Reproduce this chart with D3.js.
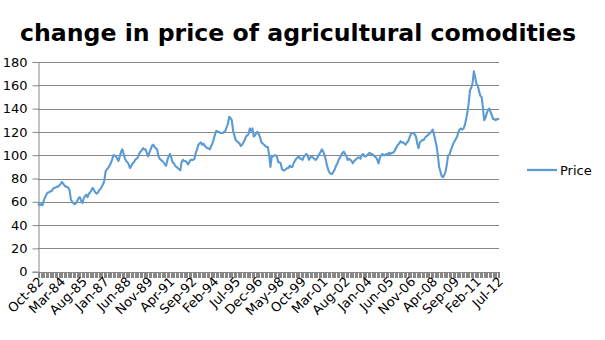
<!DOCTYPE html>
<html>
<head>
<meta charset="utf-8">
<script src="https://cdn.jsdelivr.net/npm/d3@7"></script>
<style>
  html, body { margin: 0; padding: 0; background: #ffffff; }
  svg { display: block; }
  text { font-family: "DejaVu Sans", sans-serif; }
</style>
</head>
<body>
<svg id="chart" width="605" height="340"></svg>
<script>
// ---- data ----
const chartTitle = "change in price of agricultural comodities";
const seriesName = "Price";
const startMonth = [1982, 9];   // Oct-82
const endMonth = [2012, 6];     // Jul-12
const price = [
  58, 57, 58, 57, 61, 64, 66, 68, 68, 69, 69, 71,
  72, 72, 73, 73, 74, 75, 77, 76, 74, 73, 73, 72,
  70, 62, 60, 59, 58, 59, 61, 63, 64, 61, 59, 63,
  65, 66, 64, 67, 68, 70, 72, 70, 68, 67, 68, 70,
  71, 73, 75, 78, 86, 88, 89, 91, 93, 96, 100, 100,
  99, 97, 95, 99, 103, 105, 101, 97, 95, 94, 92, 89,
  91, 93, 94, 96, 97, 98, 101, 103, 104, 106, 105, 105,
  102, 99, 102, 105, 108, 109, 107, 106, 105, 99, 97, 96,
  95, 94, 92, 91, 96, 99, 101, 98, 94, 93, 91, 90,
  89, 88, 87, 94, 96, 95, 95, 94, 92, 94, 96, 96,
  96, 97, 102, 105, 109, 110, 111, 109, 110, 108, 107, 106,
  106, 105, 108, 110, 114, 118, 121, 120, 120, 119, 119, 119,
  120, 121, 124, 127, 133, 132, 130, 121, 117, 113, 112, 111,
  110, 108, 109, 111, 113, 116, 117, 118, 123, 121, 123, 116,
  117, 119, 120, 118, 115, 111, 110, 109, 108, 107, 107, 100,
  90, 99, 99, 100, 100, 99, 94, 94, 93, 88, 87, 87,
  88, 89, 89, 91, 90, 90, 93, 95, 97, 98, 99, 97,
  97, 96, 99, 100, 101, 99, 96, 98, 99, 98, 97, 96,
  97, 99, 101, 103, 105, 103, 100, 96, 91, 87, 85, 84,
  84, 86, 88, 91, 93, 96, 98, 100, 102, 103, 101, 99,
  96, 97, 96, 95, 93, 95, 96, 97, 98, 98, 97, 100,
  101, 99, 99, 100, 101, 102, 101, 101, 100, 99, 98, 96,
  93, 98, 100, 101, 100, 100, 101, 100, 102, 101, 102, 102,
  103, 105, 107, 109, 110, 112, 111, 111, 110, 109, 111, 112,
  115, 118, 119, 119, 118, 116, 110, 106, 111, 112, 113, 113,
  115, 116, 117, 118, 119, 120, 122, 118, 113, 108, 100, 90,
  86, 82, 81, 83, 86, 92, 100, 100, 104, 107, 110, 112,
  114, 116, 120, 122, 123, 122, 123, 126, 131, 137, 145, 156,
  158, 162, 172, 167, 161, 160, 155, 151, 150, 141, 130, 132,
  136, 139, 140, 137, 134, 131, 131, 130, 131, 131
];
const tickLabels = ["Oct-82","Mar-84","Aug-85","Jan-87","Jun-88","Nov-89","Apr-91","Sep-92",
  "Feb-94","Jul-95","Dec-96","May-98","Oct-99","Mar-01","Aug-02","Jan-04","Jun-05","Nov-06",
  "Apr-08","Sep-09","Feb-11","Jul-12"];
const labelStep = 17;
const yTicks = [0, 20, 40, 60, 80, 100, 120, 140, 160, 180];

// ---- chart ----
const months = d3.timeMonth.range(new Date(startMonth[0], startMonth[1], 1),
                                  d3.timeMonth.offset(new Date(endMonth[0], endMonth[1], 1), 1));
const data = months.map((m, i) => ({ m, i, v: price[i] }));

const svg = d3.select("#chart");
const L = 38, R = 499, T = 62, B = 271.7;
const gridColor = "#878787";

const x = d3.scaleBand().domain(data.map(d => d.i)).range([L, R]).padding(0);
const y = d3.scaleLinear().domain([0, 180]).range([B, T]);

// gridlines
svg.append("g").selectAll("line").data(yTicks).join("line")
  .attr("x1", L).attr("x2", R)
  .attr("y1", d => Math.round(y(d)) + 0.5).attr("y2", d => Math.round(y(d)) + 0.5)
  .attr("stroke", gridColor).attr("stroke-width", 1);

// y axis
const yAxis = svg.append("g").attr("transform", `translate(${L + 0.5},0)`)
  .call(d3.axisLeft(y).tickValues(yTicks).tickSize(6).tickPadding(5).tickFormat(d3.format("d")));
yAxis.select(".domain").attr("stroke", gridColor);
yAxis.selectAll(".tick line").attr("stroke", gridColor);
yAxis.selectAll(".tick text").attr("font-size", 13).attr("fill", "#000")
  .attr("font-family", "DejaVu Sans, sans-serif");

// x axis line
svg.append("line").attr("x1", L).attr("x2", R + 0.5)
  .attr("y1", Math.round(B) + 0.5).attr("y2", Math.round(B) + 0.5)
  .attr("stroke", gridColor);

// x tick marks at category boundaries
const bounds = data.map(d => x(d.i)).concat([R]);
svg.append("g").selectAll("line").data(bounds).join("line")
  .attr("x1", d => Math.round(d) + 0.5).attr("x2", d => Math.round(d) + 0.5)
  .attr("y1", Math.round(B)).attr("y2", Math.round(B) + 6)
  .attr("stroke", gridColor).attr("stroke-width", 1)
  .attr("shape-rendering", "crispEdges");

// x labels
const labelIdx = tickLabels.map((t, k) => k * labelStep);
const xAxis = svg.append("g").attr("transform", `translate(0,${Math.round(B)})`)
  .call(d3.axisBottom(x).tickValues(labelIdx).tickSize(0)
        .tickFormat((d, k) => tickLabels[k]));
xAxis.select(".domain").remove();
xAxis.selectAll(".tick text")
  .attr("font-size", 13).attr("fill", "#000")
  .attr("font-family", "DejaVu Sans, sans-serif")
  .attr("text-anchor", "end")
  .attr("dy", null).attr("y", 0)
  .attr("transform", "translate(3,8) rotate(-45)")
  .attr("dominant-baseline", "middle");

// line
const line = d3.line().x(d => x(d.i) + x.bandwidth() / 2).y(d => y(d.v));
svg.append("path").datum(data)
  .attr("d", line).attr("fill", "none")
  .attr("stroke", "#5b9bd5").attr("stroke-width", 2.1)
  .attr("stroke-linejoin", "round").attr("stroke-linecap", "round");

// title
svg.append("text").attr("x", 298).attr("y", 41)
  .attr("text-anchor", "middle")
  .attr("font-size", 23.6).attr("font-weight", "bold").attr("fill", "#000")
  .text(chartTitle);

// legend
const lg = svg.append("g");
lg.append("line").attr("x1", 527).attr("x2", 557).attr("y1", 170).attr("y2", 170)
  .attr("stroke", "#5b9bd5").attr("stroke-width", 2.25);
lg.append("text").attr("x", 560).attr("y", 175).attr("font-size", 13).attr("fill", "#000")
  .text(seriesName);
</script>
</body>
</html>
